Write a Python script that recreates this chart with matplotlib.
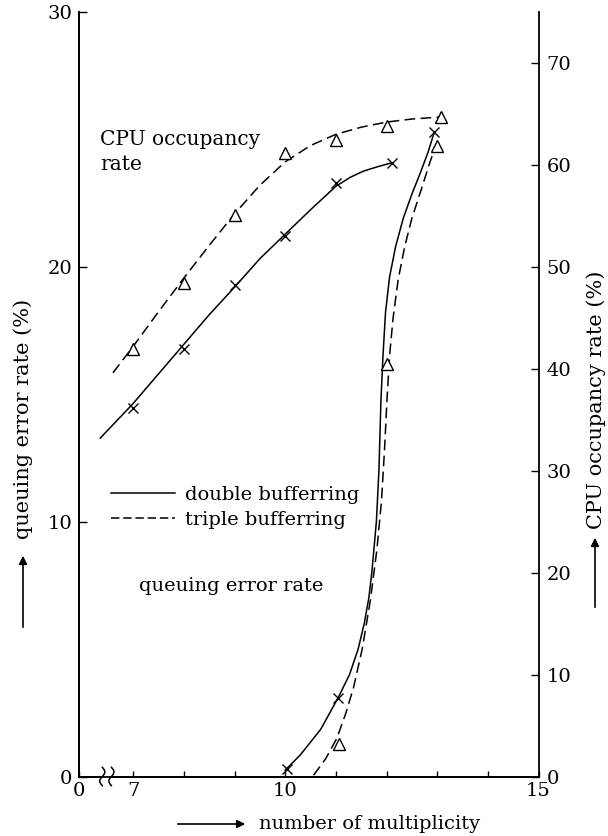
#Import packages
import numpy as np
import matplotlib
matplotlib.use('Agg')
import matplotlib.pyplot as plt
import matplotlib.transforms as mtransforms
from matplotlib.lines import Line2D
from matplotlib.patches import Rectangle

plt.rcParams['font.family'] = ['DejaVu Serif']
plt.rcParams['font.size'] = 14

#Chart values
#CPU occupancy rate (%), right axis
cpu_double_mk_x = [7, 8, 9, 10, 11, 12.1]
cpu_double_mk_y = [36.2, 41.9, 48.2, 53.0, 58.2, 60.2]
cpu_triple_mk_x = [7, 8, 9, 10, 11, 12, 13.07]
cpu_triple_mk_y = [41.9, 48.4, 55.1, 61.2, 62.4, 63.8, 64.7]

cpu_double_x = [6.35, 7.0, 7.5, 8.0, 8.5, 9.0, 9.5, 10.0, 10.5, 11.0, 11.29, 11.55, 11.81, 12.1]
cpu_double_y = [33.2, 36.6, 39.5, 42.4, 45.3, 48.0, 50.8, 53.2, 55.6, 57.9, 58.8, 59.4, 59.8, 60.2]
cpu_triple_x = [6.6, 7.0, 7.5, 8.0, 8.5, 9.0, 9.5, 10.0, 10.5, 11.0, 11.5, 12.0, 12.5, 13.07]
cpu_triple_y = [39.6, 42.2, 45.6, 48.9, 52.1, 55.2, 58.0, 60.3, 61.9, 63.0, 63.7, 64.2, 64.5, 64.7]

#queuing error rate (%), left axis
qe_double_mk_x = [10.04, 11.04, 12.93]
qe_double_mk_y = [0.28, 3.07, 25.3]
qe_triple_mk_x = [11.07, 12.0, 12.99]
qe_triple_mk_y = [1.26, 16.2, 24.76]

qe_double_x = [10.0, 10.3, 10.7, 11.04, 11.27, 11.44, 11.56, 11.65, 11.71, 11.80, 11.85, 11.89,
	11.93, 11.98, 12.06, 12.18, 12.33, 12.5, 12.67, 12.82, 12.93]
qe_double_y = [0.25, 0.85, 1.85, 3.07, 4.0, 5.0, 6.0, 7.0, 8.0, 10.0, 12.0, 14.76,
	16.5, 18.2, 19.6, 20.8, 21.9, 22.85, 23.7, 24.5, 25.2]
qe_triple_x = [10.56, 10.8, 11.02, 11.2, 11.35, 11.52, 11.68, 11.81, 11.9, 11.96, 12.01, 12.06,
	12.13, 12.23, 12.36, 12.5, 12.68, 12.84, 12.96]
qe_triple_y = [0.05, 0.7, 1.5, 2.5, 3.5, 5.0, 6.9, 8.9, 10.8, 12.8, 14.8, 16.5,
	18.0, 19.5, 20.8, 21.9, 23.0, 24.0, 24.7]

#Axis ticks
x_left = 5.93
x_ticks = [x_left, 7, 10, 15]
x_ticklabels = ['0', '7', '10', '15']
x_minor = [8, 9, 11, 12, 13, 14]
qe_ticks = [0, 10, 20, 30]
cpu_ticks = [0, 10, 20, 30, 40, 50, 60, 70]

#Main script
def main():
	fig = plt.figure(figsize=(6.08, 8.36), dpi=100)
	ax = fig.add_axes([79/608, 1-776.5/836, (538.5-79)/608, (776.5-12)/836])
	ax2 = ax.twinx()

	dash = (0, (7, 3.5))
	lw = 1.1

	#queuing error rate
	ax.plot(qe_double_x, qe_double_y, color='k', lw=lw)
	ax.plot(qe_triple_x, qe_triple_y, color='k', lw=lw, linestyle=dash)
	ax.plot(qe_double_mk_x, qe_double_mk_y, 'x', color='k', ms=7, mew=1.0)
	ax.plot(qe_triple_mk_x, qe_triple_mk_y, '^', color='k', mfc='white', ms=8, mew=1.0)

	#CPU occupancy
	ax2.plot(cpu_double_x, cpu_double_y, color='k', lw=lw)
	ax2.plot(cpu_triple_x, cpu_triple_y, color='k', lw=lw, linestyle=dash)
	ax2.plot(cpu_double_mk_x, cpu_double_mk_y, 'x', color='k', ms=7, mew=1.0)
	ax2.plot(cpu_triple_mk_x, cpu_triple_mk_y, '^', color='k', mfc='white', ms=8, mew=1.0)

	ax.set_xlim(x_left, 15)
	ax.set_ylim(0, 30)
	ax2.set_ylim(0, 75)

	ax.set_xticks(x_ticks)
	ax.set_xticklabels(x_ticklabels)
	ax.set_xticks(x_minor, minor=True)
	ax.set_yticks(qe_ticks)
	ax2.set_yticks(cpu_ticks)

	ax.tick_params(axis='x', which='both', direction='in', length=4, width=1, pad=4)
	ax.tick_params(axis='y', direction='in', length=6, width=1, pad=5)
	ax2.tick_params(axis='y', direction='in', length=6, width=1, pad=6)

	for a in (ax, ax2):
		a.spines['top'].set_visible(False)
		for s in a.spines.values():
			s.set_linewidth(1.3)
	ax.spines['right'].set_visible(False)

	#axis break on the x axis
	brk = mtransforms.blended_transform_factory(ax.transData, ax.transAxes)
	ax.add_patch(Rectangle((6.4, -0.008), 0.15, 0.016, transform=brk, color='white',
		clip_on=False, zorder=5))
	t = np.linspace(-1, 1, 30)
	for xb in (6.39, 6.57):
		ax.plot(xb + 0.05*np.sin(np.pi*t), 0.012*t, transform=brk, color='k', lw=1.1,
			clip_on=False, zorder=6)

	#axis labels
	ax.set_ylabel('queuing error rate (%)', fontsize=15, va='center')
	ax.yaxis.set_label_coords(-0.122, (776.5-419)/764.5)
	ax2.set_ylabel('CPU occupancy rate (%)', fontsize=15, va='center')
	ax2.yaxis.set_label_coords(1.125, (776.5-400)/764.5)
	ax.set_xlabel('number of multiplicity', va='center')
	ax.xaxis.set_label_coords(0.633, -0.062)

	arrow = dict(arrowstyle='-|>', lw=1.2, color='k', mutation_scale=12)
	ax.annotate('', xy=(23/608, 1-553/836), xytext=(23/608, 1-630/836),
		xycoords='figure fraction', textcoords='figure fraction', arrowprops=arrow)
	ax.annotate('', xy=(595/608, 1-535/836), xytext=(595/608, 1-610/836),
		xycoords='figure fraction', textcoords='figure fraction', arrowprops=arrow)
	ax.annotate('', xy=(248/608, 1-824/836), xytext=(175/608, 1-824/836),
		xycoords='figure fraction', textcoords='figure fraction', arrowprops=arrow)

	#curve labels
	ax.text(100/608, 1-152/836, 'CPU occupancy\nrate', transform=fig.transFigure,
		ha='left', va='center', linespacing=1.35, fontsize=14.5)
	ax.text(139/608, 1-585.7/836, 'queuing error rate', transform=fig.transFigure,
		ha='left', va='center')

	#legend
	handles = [Line2D([], [], color='k', lw=lw),
		Line2D([], [], color='k', lw=lw, linestyle=(0, (5.5, 2.5)))]
	ax.legend(handles, ['double bufferring', 'triple bufferring'], frameon=False,
		loc='upper left', bbox_to_anchor=(111/608, 1-486/836), bbox_transform=fig.transFigure,
		borderpad=0, borderaxespad=0, handlelength=3.3, handletextpad=0.5, labelspacing=0.35)

	fig.savefig('out.png', dpi=100)

#Execute main script
if __name__ == '__main__':
	main()
